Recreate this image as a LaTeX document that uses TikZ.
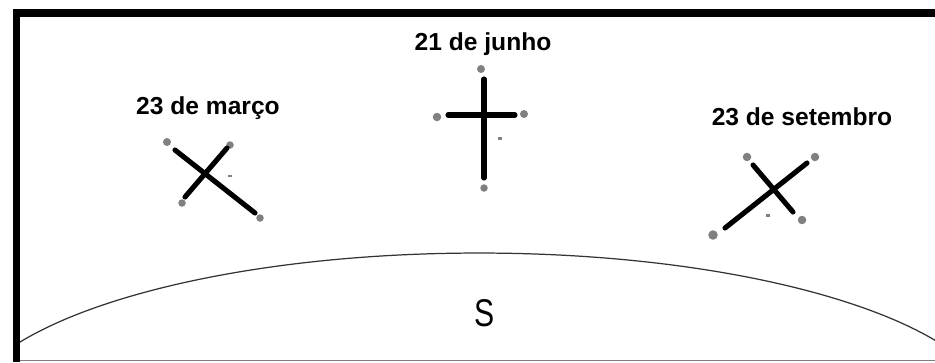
\documentclass[tikz,border=0pt]{standalone}
\usepackage{fontspec}
\setmainfont{Liberation Sans}
\begin{document}
\begin{tikzpicture}[x=0.02cm, y=-0.02cm,
    bar/.style={fill=black},
    rod/.style={line width=2.9pt, line cap=round},
    dot/.style={fill=black!50},
    lbl/.style={font=\fontsize{14}{16}\selectfont\bfseries, inner sep=0pt, anchor=base}]
  % 1 unit = 1 pixel of the 935x362 sketch, y runs downwards
  \useasboundingbox (0,0) rectangle (935,362);
  % horizon arc, cut off by the frame
  \begin{scope}
    \clip (20,16) rectangle (935,360.5);
    \draw[black!80, line width=0.7pt] (479,420) ellipse [x radius=10.38cm, y radius=3.34cm];
  \end{scope}
  % frame: thick left and top, thin bottom
  \fill[bar] (13,9) rectangle (20,362);
  \fill[bar] (13,9) rectangle (935,16.5);
  \draw[black!50, line width=0.8pt] (20,360.5) -- (935,360.5);
  \node[font=\fontsize{22}{24}\selectfont, inner sep=0pt] (sul) at (485,313) {\scalebox{0.78}[1]{S}};
  % labels
  \node[lbl] (marco) at (208,114) {23 de março};
  \node[lbl] (junho) at (483,50) {21 de junho};
  \node[lbl] (setembro) at (802,125) {23 de setembro};
  % 23 de marco
  \fill[dot] (167,142) circle (0.08cm);
  \fill[dot] (230,145) circle (0.075cm);
  \fill[dot] (182,203) circle (0.075cm);
  \fill[dot] (260,218) circle (0.075cm);
  \fill[dot] (228,174.5) rectangle (231.5,177);
  \draw[rod] (175,150) -- (255,213);
  \draw[rod] (185,197) -- (227,148);
  % 21 de junho
  \fill[dot] (481,69) circle (0.08cm);
  \fill[dot] (484,188) circle (0.075cm);
  \fill[dot] (437,117) circle (0.085cm);
  \fill[dot] (524,114) circle (0.08cm);
  \fill[dot] (497.5,137) rectangle (501.5,139.5);
  \draw[rod] (484,79) -- (484,178);
  \draw[rod] (448,115) -- (515,115);
  % 23 de setembro
  \fill[dot] (747,157) circle (0.085cm);
  \fill[dot] (815,157) circle (0.085cm);
  \fill[dot] (713,235) circle (0.095cm);
  \fill[dot] (802,220) circle (0.085cm);
  \fill[dot] (765.5,213.5) rectangle (769.5,217);
  \draw[rod] (725,228) -- (807,163);
  \draw[rod] (753,165) -- (793,212);
\end{tikzpicture}
\end{document}
